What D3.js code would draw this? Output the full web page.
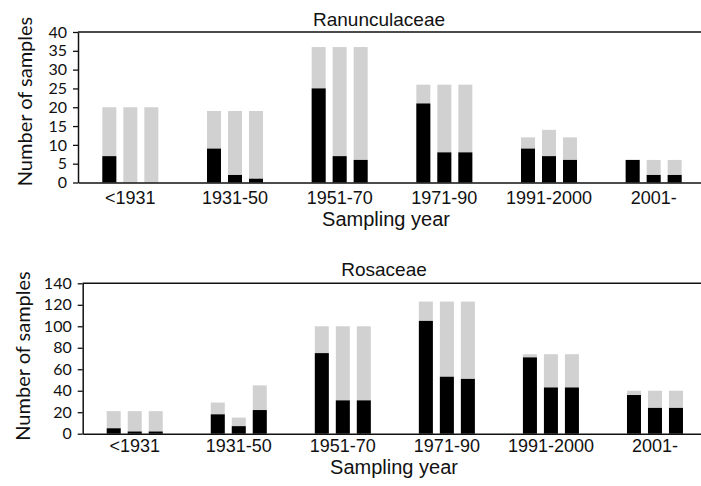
<!DOCTYPE html>
<html>
<head>
<meta charset="utf-8">
<script src="https://cdn.jsdelivr.net/npm/d3@7/dist/d3.min.js"></script>
<style>
  body { margin: 0; background: #fff; }
  svg { display: block; }
</style>
</head>
<body>
<div class="figure"></div>
<script>
//categories (sampling periods), three bars per period
var categories = ["<1931", "1931-50", "1951-70", "1971-90", "1991-2000", "2001-"];

//Ranunculaceae: total bar height and black part
var ranTotal = [[20, 20, 20], [19, 19, 19], [36, 36, 36], [26, 26, 26], [12, 14, 12], [6, 6, 6]];
var ranBlack = [[7, 0, 0], [9, 2, 1], [25, 7, 6], [21, 8, 8], [9, 7, 6], [6, 2, 2]];
var ranTicks = [0, 5, 10, 15, 20, 25, 30, 35, 40];

//Rosaceae: total bar height and black part
var rosTotal = [[21, 21, 21], [29, 15, 45], [100, 100, 100], [123, 123, 123], [74, 74, 74], [40, 40, 40]];
var rosBlack = [[5, 2, 2], [18, 7, 22], [75, 31, 31], [105, 53, 51], [71, 43, 43], [36, 24, 24]];
var rosTicks = [0, 20, 40, 60, 80, 100, 120, 140];

//svg size
var svgWidth = 701;
var svgHeight = 486;

var svg = d3.select(".figure")
  .append("svg")
  .attr("width", svgWidth)
  .attr("height", svgHeight);

var calibriLike = "Lato, 'Open Sans', sans-serif";
var arialLike = "'Liberation Sans', Arial, sans-serif";

//draws one panel
function drawPanel(p) {
  var x = d3.scaleBand()
    .domain(categories)
    .range([p.left, p.right]);

  var xInner = d3.scaleBand()
    .domain([0, 1, 2])
    .range([-31.5, 31.5])
    .paddingInner(1 / 3)
    .paddingOuter(1 / 6);

  var y = d3.scaleLinear()
    .domain([0, p.ticks[p.ticks.length - 1]])
    .range([p.bottom, p.top]);

  var g = svg.append("g");

  //flatten rows into bars
  var bars = [];
  categories.forEach((c, i) => {
    p.total[i].forEach((t, j) => {
      bars.push({cat: c, idx: j, total: t, black: p.black[i][j]});
    });
  });

  //grey bars (full height)
  g.selectAll("rect.grey")
    .data(bars)
    .enter()
    .append("rect")
    .attr("class", "grey")
    .attr("x", d => x(d.cat) + x.bandwidth() / 2 + xInner(d.idx))
    .attr("y", d => y(d.total))
    .attr("width", xInner.bandwidth())
    .attr("height", d => y(0) - y(d.total))
    .attr("fill", "#d0d1d0");

  //black part
  g.selectAll("rect.black")
    .data(bars)
    .enter()
    .append("rect")
    .attr("class", "black")
    .attr("x", d => x(d.cat) + x.bandwidth() / 2 + xInner(d.idx))
    .attr("y", d => y(d.black))
    .attr("width", xInner.bandwidth())
    .attr("height", d => y(0) - y(d.black))
    .attr("fill", "#000");

  //top frame line
  g.append("line")
    .attr("x1", p.left)
    .attr("x2", p.right)
    .attr("y1", y(p.ticks[p.ticks.length - 1]))
    .attr("y2", y(p.ticks[p.ticks.length - 1]))
    .attr("stroke", "#111")
    .attr("stroke-width", 1.5);

  //y axis
  var yAxis = g.append("g")
    .attr("transform", `translate(${p.left}, 0)`)
    .call(d3.axisLeft(y).tickValues(p.ticks).tickSize(5).tickSizeOuter(0).tickPadding(6));
  yAxis.select(".domain").attr("stroke", "#111").attr("stroke-width", 1.5);
  yAxis.selectAll(".tick line").attr("stroke", "#111").attr("stroke-width", 1.3);
  yAxis.selectAll(".tick text")
    .attr("font-family", calibriLike)
    .attr("font-size", 16)
    .attr("fill", "#111");

  //x axis
  var xAxis = g.append("g")
    .attr("transform", `translate(0, ${p.bottom})`)
    .call(d3.axisBottom(x).tickSize(0).tickSizeOuter(0).tickPadding(0));
  xAxis.select(".domain").attr("stroke", "#111").attr("stroke-width", 1.5);
  xAxis.selectAll(".tick text")
    .attr("font-family", arialLike)
    .attr("font-size", 18)
    .attr("fill", "#111")
    .attr("dy", null)
    .attr("y", p.catOffset);

  //title
  g.append("text")
    .attr("x", p.titleX)
    .attr("y", p.titleY)
    .attr("text-anchor", "middle")
    .attr("font-family", arialLike)
    .attr("font-size", 19)
    .attr("fill", "#111")
    .text(p.title);

  //x label
  g.append("text")
    .attr("x", p.xLabelX)
    .attr("y", p.xLabelY)
    .attr("text-anchor", "middle")
    .attr("font-family", arialLike)
    .attr("font-size", 20)
    .attr("fill", "#111")
    .text("Sampling year");

  //y label
  g.append("text")
    .attr("transform", `translate(${p.yLabelX}, ${p.yLabelMid}) rotate(-90)`)
    .attr("text-anchor", "middle")
    .attr("font-family", calibriLike)
    .attr("font-size", 20)
    .attr("fill", "#111")
    .text("Number of samples");
}

drawPanel({
  title: "Ranunculaceae",
  total: ranTotal,
  black: ranBlack,
  ticks: ranTicks,
  left: 78, right: 706, top: 32, bottom: 182.5,
  catOffset: 21.5,
  titleX: 379, titleY: 26,
  xLabelX: 386, xLabelY: 226,
  yLabelX: 31.5, yLabelMid: 101.5
});

drawPanel({
  title: "Rosaceae",
  total: rosTotal,
  black: rosBlack,
  ticks: rosTicks,
  left: 82.7, right: 707, top: 283.3, bottom: 433.7,
  catOffset: 18.5,
  titleX: 384, titleY: 276,
  xLabelX: 394, xLabelY: 474,
  yLabelX: 29.5, yLabelMid: 356
});
</script>
</body>
</html>
